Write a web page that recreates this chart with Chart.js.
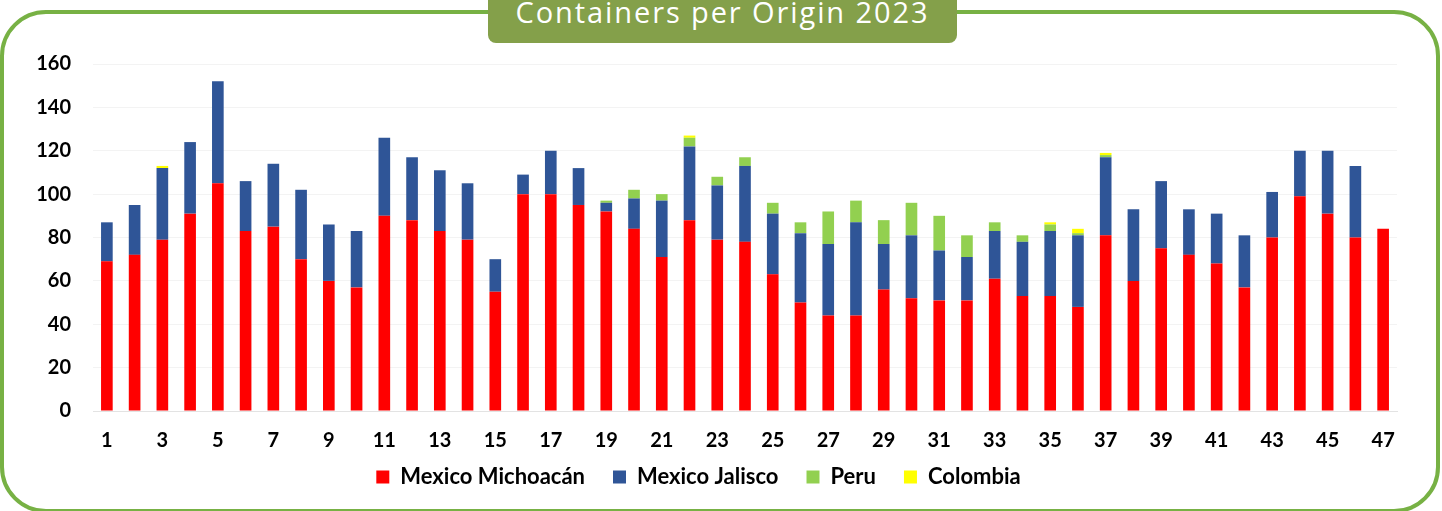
<!DOCTYPE html>
<html>
<head>
<meta charset="utf-8">
<script src="https://cdn.jsdelivr.net/npm/chart.js@4/dist/chart.umd.min.js"></script>
<style>
  html, body { margin: 0; padding: 0; background: #fff; }
  body { width: 1442px; height: 511px; position: relative; overflow: hidden; }
  .frame {
    position: absolute; left: 0; top: 10px; width: 1440px; height: 503px;
    box-sizing: border-box; border: 4px solid #77b144; border-radius: 46px;
  }
  .title {
    position: absolute; left: 488px; top: -10px; width: 469px; height: 53px;
    background: #84a04a; border-radius: 8px; color: #fff;
    font-family: "Open Sans", sans-serif; font-size: 29px; letter-spacing: 1.9px;
    text-align: center; line-height: 44px; white-space: nowrap;
  }
  #wrap { position: absolute; left: 0; top: 0; width: 1442px; height: 511px; }
</style>
</head>
<body>
<div class="frame"></div>
<div class="title">Containers per Origin 2023</div>
<div id="wrap"><canvas id="chart"></canvas></div>
<script>
// week numbers 1..47
const weeks = ['1','2','3','4','5','6','7','8','9','10','11','12','13','14','15','16','17','18','19','20',
  '21','22','23','24','25','26','27','28','29','30','31','32','33','34','35','36','37','38','39','40',
  '41','42','43','44','45','46','47'];

const michoacan = [69, 72, 79, 91, 105, 83, 85, 70, 60, 57, 90, 88, 83, 79, 55, 100, 100, 95, 92, 84,
  71, 88, 79, 78, 63, 50, 44, 44, 56, 52, 51, 51, 61, 53, 53, 48, 81, 60, 75, 72,
  68, 57, 80, 99, 91, 80, 84];
const jalisco = [18, 23, 33, 33, 47, 23, 29, 32, 26, 26, 36, 29, 28, 26, 15, 9, 20, 17, 4, 14,
  26, 34, 25, 35, 28, 32, 33, 43, 21, 29, 23, 20, 22, 25, 30, 33, 36, 33, 31, 21,
  23, 24, 21, 21, 29, 33, 0];
const peru = [0, 0, 0, 0, 0, 0, 0, 0, 0, 0, 0, 0, 0, 0, 0, 0, 0, 0, 1, 4,
  3, 4, 4, 4, 5, 5, 15, 10, 11, 15, 16, 10, 4, 3, 3, 1, 1, 0, 0, 0,
  0, 0, 0, 0, 0, 0, 0];
const colombia = [0, 0, 1, 0, 0, 0, 0, 0, 0, 0, 0, 0, 0, 0, 0, 0, 0, 0, 0, 0,
  0, 1, 0, 0, 0, 0, 0, 0, 0, 0, 0, 0, 0, 0, 1, 2, 1, 0, 0, 0,
  0, 0, 0, 0, 0, 0, 0];

const yTicks = [0, 20, 40, 60, 80, 100, 120, 140, 160];

const tickFont = { family: 'Lato, sans-serif', size: 20, weight: 'bold' };
const legendFont = { family: 'Lato, sans-serif', size: 22, weight: 'bold' };
const LEGEND_PAD = 28;

function series(label, data, color) {
  return {
    label: label,
    data: data,
    backgroundColor: color,
    borderWidth: 0,
    barPercentage: 0.42,
    categoryPercentage: 1.0
  };
}

// legend padding also sets the gap between items, so place the legend by hand after layout
const legendNudge = {
  id: 'legendNudge',
  afterLayout(chart) {
    const lg = chart.legend;
    lg.top = 477 - LEGEND_PAD - 11;
    lg.bottom = chart.height;
  }
};

new Chart(document.getElementById('chart'), {
  type: 'bar',
  data: {
    labels: weeks,
    datasets: [
      series('Mexico Michoacán', michoacan, '#ff0000'),
      series('Mexico Jalisco', jalisco, '#2f5597'),
      series('Peru', peru, '#92d050'),
      series('Colombia', colombia, '#ffff00')
    ]
  },
  plugins: [legendNudge],
  options: {
    responsive: true,
    maintainAspectRatio: false,
    animation: false,
    layout: { padding: { left: 0, right: 45, top: 64, bottom: 8 } },
    plugins: {
      legend: {
        position: 'bottom',
        maxHeight: 40,
        labels: {
          color: '#000',
          font: legendFont,
          boxWidth: 13,
          boxHeight: 13,
          padding: LEGEND_PAD
        }
      },
      tooltip: { enabled: false }
    },
    scales: {
      x: {
        stacked: true,
        grid: { display: false },
        border: { display: true, color: '#e3e3e3', width: 1 },
        ticks: {
          color: '#000',
          font: tickFont,
          autoSkip: false,
          maxRotation: 0,
          padding: 10,
          callback: function (val, i) { return i % 2 === 0 ? weeks[i] : ''; }
        }
      },
      y: {
        stacked: true,
        min: 0,
        max: 160,
        afterBuildTicks: function (scale) { scale.ticks = yTicks.map(v => ({ value: v })); },
        afterFit: function (scale) { scale.width = 93; },
        grid: { color: '#f3f3f3', drawTicks: false },
        border: { display: false },
        ticks: { color: '#000', font: tickFont, padding: 22 }
      }
    }
  }
});
</script>
</body>
</html>
